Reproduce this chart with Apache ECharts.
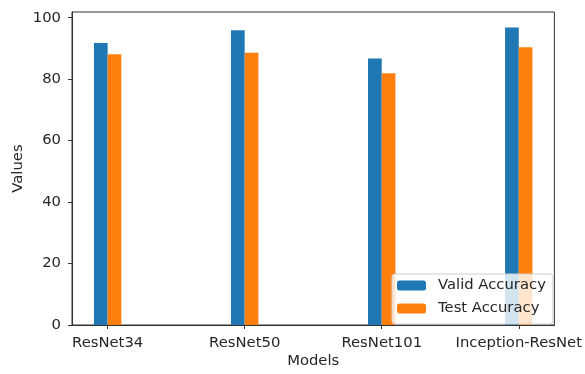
<!DOCTYPE html>
<html>
<head>
<meta charset="utf-8">
<script src="https://cdn.jsdelivr.net/npm/echarts@6/dist/echarts.min.js"></script>
<style>
  html, body { margin: 0; padding: 0; background: #fff; }
  #chart { width: 585px; height: 374px; }
</style>
</head>
<body>
<div id="chart"></div>
<script>
// Model names along the x axis
const models = ['ResNet34', 'ResNet50', 'ResNet101', 'Inception-ResNet'];
// Accuracy (%) per model
const validAccuracy = [91.8, 95.9, 86.7, 96.8];
const testAccuracy = [88.1, 88.6, 81.9, 90.4];
// Y tick labels
const yTicks = [0, 20, 40, 60, 80, 100];

const FONT = 'DejaVu Sans';
const FS = 14.8;
const TEXT = '#262626';
const BAR_W = 0.1;

function barSeries(name, values, offset, color) {
  return {
    type: 'custom',
    name: name,
    itemStyle: { color: color },
    data: values.map((v, i) => [i + offset, v]),
    encode: { x: 0, y: 1 },
    renderItem: function (params, api) {
      const x = api.value(0), y = api.value(1);
      const p0 = api.coord([x - BAR_W / 2, y]);
      const p1 = api.coord([x + BAR_W / 2, 0]);
      return {
        type: 'rect',
        shape: { x: p0[0], y: p0[1], width: p1[0] - p0[0], height: p1[1] - p0[1] },
        style: { fill: color }
      };
    }
  };
}

const chart = echarts.init(document.getElementById('chart'), null, { renderer: 'canvas' });
chart.setOption({
  animation: false,
  backgroundColor: '#fff',
  textStyle: { fontFamily: FONT },
  grid: {
    left: 72, right: 25, top: 12, bottom: 45,
    show: true, borderColor: '#333', borderWidth: 1, backgroundColor: 'transparent'
  },
  legend: {
    left: 392, top: 274,
    orient: 'vertical',
    itemWidth: 29, itemHeight: 10, itemGap: 8,
    padding: [4, 7, 8, 5],
    backgroundColor: 'rgba(255,255,255,0.8)',
    borderColor: '#d0d0d0', borderWidth: 1, borderRadius: 3,
    textStyle: { fontFamily: FONT, fontSize: FS, lineHeight: 14, color: TEXT, padding: [0, 0, 0, 7] },
    data: [
      { name: 'Valid Accuracy', itemStyle: { color: '#1f77b4' } },
      { name: 'Test Accuracy', itemStyle: { color: '#ff7f0e' } }
    ]
  },
  xAxis: {
    type: 'value',
    min: -0.26, max: 3.26,
    name: 'Models', nameLocation: 'middle', nameGap: 29, nameMoveOverlap: false,
    nameTextStyle: { fontFamily: FONT, fontSize: FS, color: TEXT },
    splitLine: { show: false },
    axisLine: { show: true, onZero: false, lineStyle: { color: '#333', width: 1 } },
    axisTick: { show: true, inside: false, length: 4, lineStyle: { color: '#333', width: 1 }, customValues: models.map((m, i) => i) },
    axisLabel: {
      fontFamily: FONT, fontSize: FS, color: TEXT, margin: 11,
      customValues: models.map((m, i) => i),
      formatter: v => models[Math.round(v)]
    }
  },
  yAxis: {
    type: 'value',
    min: 0, max: 101.85,
    name: 'Values', nameLocation: 'middle', nameGap: 46, nameRotate: 90, nameMoveOverlap: false,
    nameTextStyle: { fontFamily: FONT, fontSize: FS, color: TEXT },
    splitLine: { show: false },
    axisLine: { show: true, onZero: false, lineStyle: { color: '#333', width: 1 } },
    axisTick: { show: true, inside: false, length: 4, lineStyle: { color: '#333', width: 1 }, customValues: yTicks },
    axisLabel: { fontFamily: FONT, fontSize: FS, color: TEXT, margin: 11, customValues: yTicks }
  },
  series: [
    barSeries('Valid Accuracy', validAccuracy, -BAR_W / 2, '#1f77b4'),
    barSeries('Test Accuracy', testAccuracy, BAR_W / 2, '#ff7f0e')
  ]
});
</script>
</body>
</html>
